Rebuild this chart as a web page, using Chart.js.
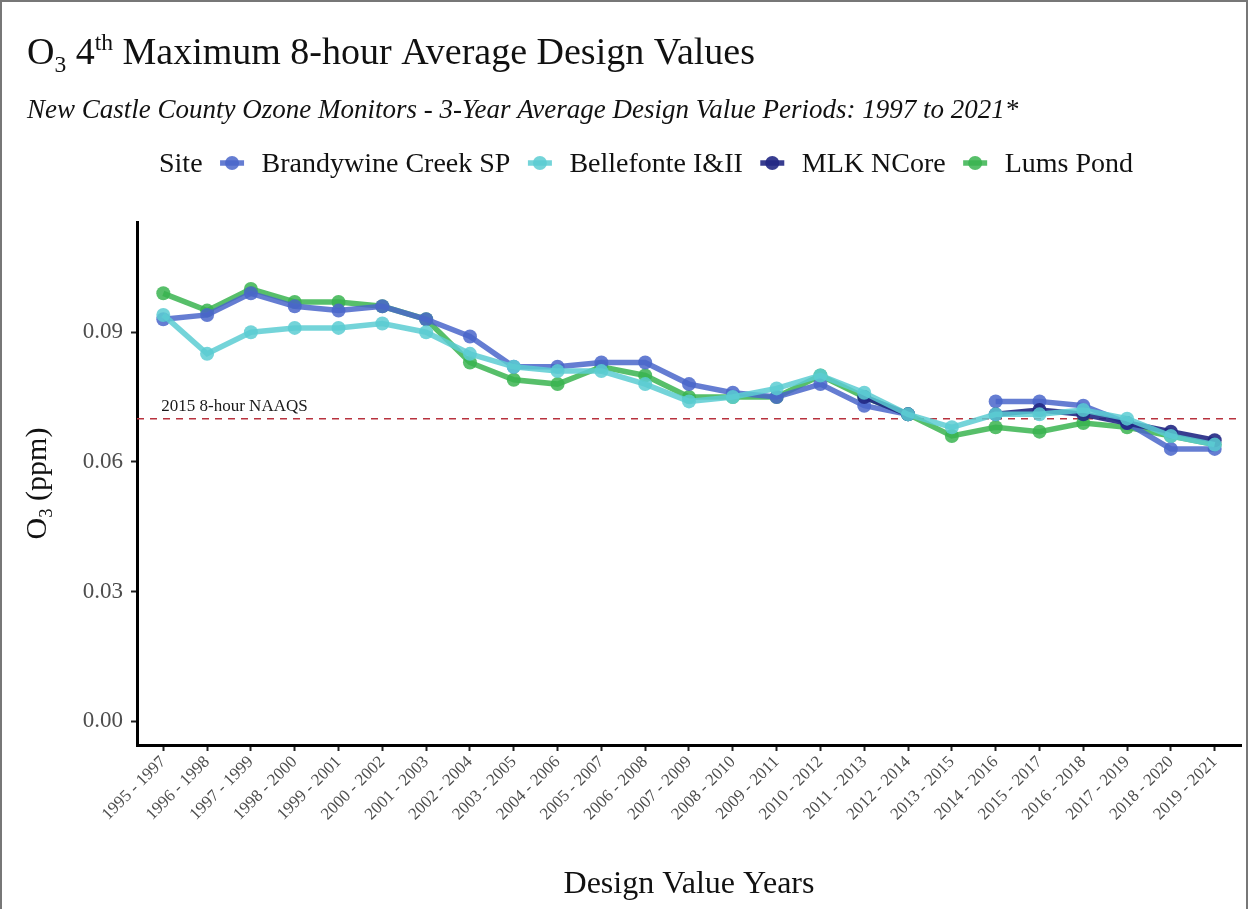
<!DOCTYPE html>
<html>
<head>
<meta charset="utf-8">
<script src="https://cdn.jsdelivr.net/npm/chart.js@4.4.1/dist/chart.umd.min.js"></script>
<style>
  html, body { margin: 0; padding: 0; background: #fff; }
  #wrap { width: 1248px; height: 909px; }
</style>
</head>
<body>
<div id="wrap"><canvas id="o3Chart" width="1248" height="909"></canvas></div>
<script>
// design value periods (x axis)
const periods = [
  '1995 - 1997', '1996 - 1998', '1997 - 1999', '1998 - 2000', '1999 - 2001',
  '2000 - 2002', '2001 - 2003', '2002 - 2004', '2003 - 2005', '2004 - 2006',
  '2005 - 2007', '2006 - 2008', '2007 - 2009', '2008 - 2010', '2009 - 2011',
  '2010 - 2012', '2011 - 2013', '2012 - 2014', '2013 - 2015', '2014 - 2016',
  '2015 - 2017', '2016 - 2018', '2017 - 2019', '2018 - 2020', '2019 - 2021'
];

// 4th max 8-hour design values, ppm (null = no valid design value)
const brandywine = [0.093, 0.094, 0.099, 0.096, 0.095, 0.096, 0.093, 0.089, 0.082, 0.082,
                    0.083, 0.083, 0.078, 0.076, 0.075, 0.078, 0.073, 0.071, null, 0.074,
                    0.074, 0.073, 0.069, 0.063, 0.063];
const bellefonte = [0.094, 0.085, 0.090, 0.091, 0.091, 0.092, 0.090, 0.085, 0.082, 0.081,
                    0.081, 0.078, 0.074, 0.075, 0.077, 0.080, 0.076, 0.071, 0.068, 0.071,
                    0.071, 0.072, 0.070, 0.066, 0.064];
const mlkNcore   = [null, null, null, null, null, null, null, null, null, null,
                    null, null, null, null, null, null, 0.075, 0.071, null, 0.071,
                    0.072, 0.071, 0.069, 0.067, 0.065];
const lumsPond   = [0.099, 0.095, 0.100, 0.097, 0.097, 0.096, 0.093, 0.083, 0.079, 0.078,
                    0.082, 0.080, 0.075, 0.075, 0.075, 0.080, 0.075, 0.071, 0.066, 0.068,
                    0.067, 0.069, 0.068, 0.066, 0.064];

const siteNames = ['Brandywine Creek SP', 'Bellefonte I&II', 'MLK NCore', 'Lums Pond'];
const yTicks = [0, 0.03, 0.06, 0.09];
const naaqs2015 = 0.070;

const SERIF = '"Liberation Serif", "Times New Roman", serif';
const siteColors = ['rgba(74,102,202,0.85)', 'rgba(92,204,210,0.85)', 'rgba(34,40,132,0.9)', 'rgba(58,180,80,0.85)'];

const toPoints = arr => arr.map((v, i) => ({ x: i, y: v }));

function series(label, values, color, order) {
  return {
    label,
    data: toPoints(values),
    borderColor: color,
    backgroundColor: color,
    pointBackgroundColor: color,
    pointBorderWidth: 0,
    pointRadius: 7,
    borderWidth: 5.5,
    tension: 0,
    spanGaps: false,
    order
  };
}

// writes a string made of plain / subscript / superscript runs, returns end x
function drawRuns(ctx, runs, x, y, size, style) {
  runs.forEach(r => {
    const s = (r.sub || r.sup) ? size * 0.62 : size;
    ctx.font = `${style || ''} ${s}px ${SERIF}`;
    const dy = r.sub ? size * 0.2 : r.sup ? -size * 0.36 : 0;
    ctx.fillText(r.t, x, y + dy);
    x += ctx.measureText(r.t).width;
  });
  return x;
}

function runsWidth(ctx, runs, size) {
  let w = 0;
  runs.forEach(r => {
    const s = (r.sub || r.sup) ? size * 0.62 : size;
    ctx.font = `${s}px ${SERIF}`;
    w += ctx.measureText(r.t).width;
  });
  return w;
}

// titles, legend, axis titles and the NAAQS reference line
const decor = {
  id: 'decor',
  beforeDatasetsDraw(chart) {
    const { ctx, chartArea, scales } = chart;
    const y = scales.y.getPixelForValue(naaqs2015);
    ctx.save();
    ctx.strokeStyle = '#b8323e';
    ctx.lineWidth = 1.5;
    ctx.setLineDash([7, 6]);
    ctx.beginPath();
    ctx.moveTo(chartArea.left, y);
    ctx.lineTo(chartArea.right, y);
    ctx.stroke();
    ctx.setLineDash([]);
    ctx.fillStyle = '#1a1a1a';
    ctx.font = `17px ${SERIF}`;
    ctx.textBaseline = 'alphabetic';
    ctx.fillText('2015 8-hour NAAQS', scales.x.getPixelForValue(0) - 2, y - 8);
    ctx.restore();
  },
  afterDraw(chart) {
    const { ctx, chartArea } = chart;
    ctx.save();
    ctx.fillStyle = '#111';
    ctx.textBaseline = 'alphabetic';
    ctx.textAlign = 'left';

    // main title
    drawRuns(ctx, [
      { t: 'O' }, { t: '3', sub: true }, { t: ' 4' }, { t: 'th', sup: true },
      { t: ' Maximum 8-hour Average Design Values' }
    ], 27, 64, 38);

    // subtitle
    ctx.font = `italic 27px ${SERIF}`;
    ctx.fillText('New Castle County Ozone Monitors - 3-Year Average Design Value Periods: 1997 to 2021*', 27, 118);

    // legend: "Site" then one key per monitor, key centred in the gap
    const ly = 163;
    const fs = 28;
    const gap = 59, keyW = 24;
    ctx.font = `${fs}px ${SERIF}`;
    let total = ctx.measureText('Site').width;
    siteNames.forEach(n => { total += gap + ctx.measureText(n).width; });
    let x = 646 - total / 2;
    ctx.fillText('Site', x, ly + 9);
    x += ctx.measureText('Site').width;
    siteNames.forEach((n, i) => {
      const c = siteColors[i];
      const cx = x + gap / 2;
      ctx.strokeStyle = c;
      ctx.fillStyle = c;
      ctx.lineWidth = 5.5;
      ctx.beginPath();
      ctx.moveTo(cx - keyW / 2, ly);
      ctx.lineTo(cx + keyW / 2, ly);
      ctx.stroke();
      ctx.beginPath();
      ctx.arc(cx, ly, 7, 0, Math.PI * 2);
      ctx.fill();
      x += gap;
      ctx.fillStyle = '#111';
      ctx.font = `${fs}px ${SERIF}`;
      ctx.fillText(n, x, ly + 9);
      x += ctx.measureText(n).width;
    });

    // x axis title
    ctx.font = `32px ${SERIF}`;
    ctx.textAlign = 'center';
    ctx.fillText('Design Value Years', (chartArea.left + chartArea.right) / 2, 893);

    // y axis title, rotated
    const yRuns = [{ t: 'O' }, { t: '3', sub: true }, { t: ' (ppm)' }];
    const w = runsWidth(ctx, yRuns, 30);
    ctx.translate(46, (chartArea.top + chartArea.bottom) / 2);
    ctx.rotate(-Math.PI / 2);
    ctx.textAlign = 'left';
    drawRuns(ctx, yRuns, -w / 2, 0, 30);
    ctx.restore();

    // outer frame
    ctx.save();
    ctx.strokeStyle = '#777';
    ctx.lineWidth = 2;
    ctx.strokeRect(1, 1, 1246, 920);
    ctx.restore();
  }
};

new Chart(document.getElementById('o3Chart'), {
  type: 'line',
  data: {
    datasets: [
      series(siteNames[0], brandywine, siteColors[0], 2),
      series(siteNames[1], bellefonte, siteColors[1], 0),
      series(siteNames[2], mlkNcore, siteColors[2], 1),
      series(siteNames[3], lumsPond, siteColors[3], 3)
    ]
  },
  options: {
    responsive: false,
    animation: false,
    layout: { padding: { top: 222, left: 0, right: 7, bottom: 0 } },
    plugins: {
      legend: { display: false },
      title: { display: false },
      tooltip: { enabled: false }
    },
    scales: {
      x: {
        type: 'linear',
        min: -0.6,
        max: periods.length - 1 + 0.6,
        afterBuildTicks: axis => { axis.ticks = periods.map((_, i) => ({ value: i })); },
        afterFit: axis => { axis.height = 164; },
        border: { display: true, color: '#000', width: 3 },
        grid: { drawOnChartArea: false, drawTicks: true, tickLength: 6, tickColor: '#222', tickWidth: 2 },
        ticks: {
          autoSkip: false,
          minRotation: 45,
          maxRotation: 45,
          padding: 1,
          color: '#4d4d4d',
          font: { family: SERIF, size: 17 },
          callback: v => periods[v]
        }
      },
      y: {
        min: -0.0055,
        max: 0.1155,
        afterBuildTicks: axis => { axis.ticks = yTicks.map(v => ({ value: v })); },
        afterFit: axis => { axis.width = 137; },
        border: { display: true, color: '#000', width: 3 },
        grid: { drawOnChartArea: false, drawTicks: true, tickLength: 6, tickColor: '#222', tickWidth: 2 },
        ticks: {
          padding: 8,
          color: '#4d4d4d',
          font: { family: SERIF, size: 23 },
          callback: v => v.toFixed(2)
        }
      }
    }
  },
  plugins: [decor]
});
</script>
</body>
</html>
